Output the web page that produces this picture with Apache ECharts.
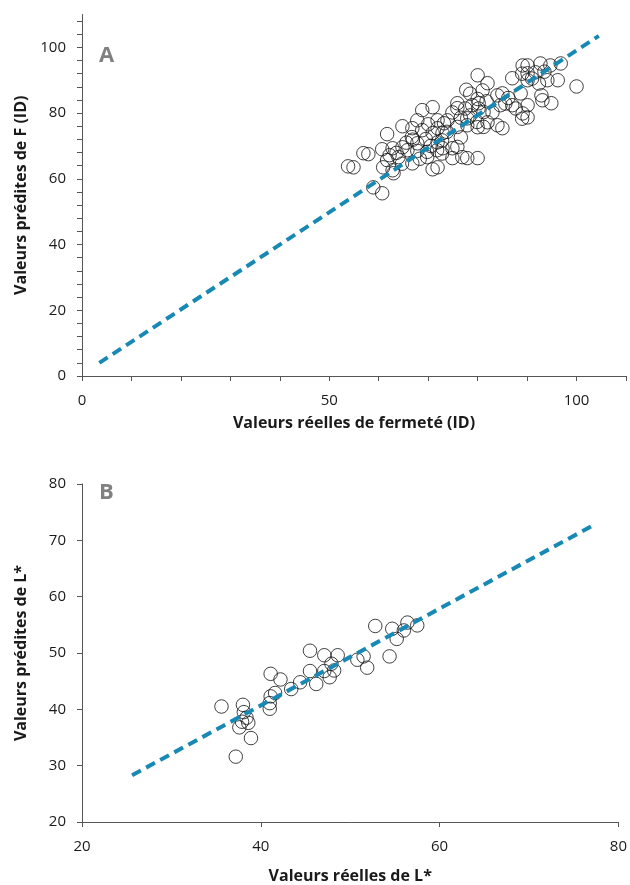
<!DOCTYPE html>
<html>
<head>
<meta charset="utf-8">
<script src="https://cdn.jsdelivr.net/npm/echarts@6/dist/echarts.min.js"></script>
<style>
  html, body { margin: 0; padding: 0; background: #fff; }
  #chart { width: 630px; height: 885px; }
</style>
</head>
<body>
<div id="chart"></div>
<script>
// panel A : fermeté (réel, prédit)
var pointsA = [
  [53.8,63.8],[54.9,63.5],[56.9,67.8],[57.9,67.5],[58.9,57.4],[60.7,55.6],[61.7,73.6],[60.7,69.0],
  [60.9,63.5],[62.8,69.3],[61.7,65.7],[62.8,62.6],[63.0,61.7],[64.8,76.0],[64.0,66.6],[64.8,69.6],
  [65.8,68.7],[66.8,75.4],[67.8,77.8],[66.8,64.7],[67.8,70.8],[68.8,74.8],[68.8,80.9],[70.9,81.8],
  [69.8,66.6],[70.9,73.9],[70.9,62.9],[71.9,63.5],[71.9,77.8],[71.9,75.4],[71.9,71.1],[72.9,69.3],
  [73.9,77.8],[72.9,73.9],[74.9,69.3],[74.9,80.2],[75.9,83.0],[74.9,66.3],[75.9,81.5],[76.9,66.6],
  [77.9,66.3],[80.0,66.3],[77.9,78.4],[77.9,76.3],[80.0,75.7],[78.5,79.3],[80.0,91.5],[80.0,84.3],
  [80.2,83.0],[81.0,86.9],[82.0,89.1],[82.0,77.2],[83.0,80.2],[84.0,85.4],[85.0,86.0],[85.0,75.4],
  [84.0,76.3],[84.6,82.4],[87.0,90.6],[87.0,82.4],[89.1,94.5],[90.1,94.5],[90.1,92.1],[90.1,90.0],
  [88.7,86.0],[89.1,79.9],[90.1,78.7],[90.1,82.4],[92.7,95.1],[91.7,92.4],[94.7,94.5],[94.1,90.0],
  [96.2,90.0],[96.8,95.1],[92.9,85.4],[93.1,83.9],[94.9,83.0],[100.0,88.1],
  [66.9,71.9],[72.8,71.7],[73.8,74.3],[75.9,75.8],[75.9,69.7],[67.8,68.5],[69.8,68.2],[71.8,68.7],
  [77.7,87.1],[78.5,85.9],[80.2,81.4],[81.2,80.3],[85.6,82.9],[87.7,81.4],[89.0,78.3],[89.0,92.0],
  [91.0,90.5],[92.4,89.0],[79.9,77.3],[81.2,75.8],[77.5,81.4],[78.9,82.4],[64.7,64.6],[72.8,67.7],
  [66.7,72.7],[70.0,76.6],[73.2,76.9],[69.5,72.1],[63.6,67.9],[65.6,71.0],[68.3,66.1],[70.5,70.0],
  [76.6,78.6],[81.8,83.6],[86.2,84.6],[93.5,92.6],[76.6,72.6],[62.2,67.2]
];
var fitA = [[3.5, 4.0], [104.5, 103.5]];
var xTicksA = [0,10,20,30,40,50,60,70,80,90,100,110];
var xLabelsA = [0,50,100];
var yTicksA = [0,4,8,12,16,20,24,28,32,36,40,44,48,52,56,60,64,68,72,76,80,84,88,92,96,100,104,108];
var yLabelsA = [0,20,40,60,80,100];

// panel B : L* (réel, prédit)
var pointsB = [
  [35.6,40.5],[37.2,31.6],[37.6,36.8],[37.9,37.8],[38.0,40.8],[38.1,39.5],[38.4,38.5],[38.6,37.6],
  [38.9,34.9],[41.0,40.1],[41.0,41.1],[41.1,42.3],[41.1,46.3],[41.6,42.9],[42.2,45.3],[43.4,43.6],
  [44.4,44.8],[45.5,50.4],[45.5,46.8],[46.2,44.5],[47.1,49.6],[47.1,46.8],[47.7,45.7],[47.9,48.1],
  [48.2,46.9],[48.6,49.6],[50.8,48.8],[51.5,49.4],[51.9,47.4],[52.8,54.8],[54.4,49.4],[54.7,54.3],
  [55.2,52.5],[56.0,54.0],[56.4,55.4],[57.5,54.9]
];
var fitB = [[25.6, 28.3], [77.1, 72.6]];

var axisColor = '#555';
var textColor = '#1a1a1a';
var lineColor = '#1889b4';
var font = 'Open Sans';

function makeX(idx, min, max, interval, ticks, labels, name, gap) {
  return {
    gridIndex: idx, type: 'value', min: min, max: max, interval: interval,
    name: name, nameLocation: 'middle', nameGap: gap,
    nameTextStyle: { color: textColor, fontFamily: font, fontSize: 16, fontWeight: 'bold' },
    axisLine: { show: true, onZero: false, lineStyle: { color: axisColor, width: 1 } },
    axisTick: { show: true, length: 5, lineStyle: { color: axisColor }, customValues: ticks },
    axisLabel: { color: textColor, fontFamily: font, fontSize: 15, margin: 17, customValues: labels },
    splitLine: { show: false }
  };
}
function makeY(idx, min, max, interval, ticks, labels, name, gap) {
  return {
    gridIndex: idx, type: 'value', min: min, max: max, interval: interval,
    name: name, nameLocation: 'middle', nameGap: gap, nameRotate: 90,
    nameTextStyle: { color: textColor, fontFamily: font, fontSize: 16, fontWeight: 'bold' },
    axisLine: { show: true, onZero: false, lineStyle: { color: axisColor, width: 1 } },
    axisTick: { show: true, length: 5, lineStyle: { color: axisColor }, customValues: ticks },
    axisLabel: { color: textColor, fontFamily: font, fontSize: 15, margin: 16, customValues: labels },
    splitLine: { show: false }
  };
}

var circleStyle = { color: 'rgba(0,0,0,0)', borderColor: '#111', borderWidth: 1 };
var dashStyle = { color: lineColor, width: 4, type: [10, 6] };

var chart = echarts.init(document.getElementById('chart'));
chart.setOption({
  animation: false,
  grid: [
    { left: 82, top: 14.5, width: 544, height: 361.5 },
    { left: 82, top: 484, width: 544, height: 338 }
  ],
  xAxis: [
    makeX(0, 0, 110, 10, xTicksA, xLabelsA, 'Valeurs réelles de fermeté (ID)', 39),
    makeX(1, 20, 80, 20, null, null, 'Valeurs réelles de L*', 46)
  ],
  yAxis: [
    makeY(0, 0, 110, 4, yTicksA, yLabelsA, 'Valeurs prédites de F (ID)', 53),
    makeY(1, 20, 80, 10, null, null, 'Valeurs prédites de L*', 53)
  ],
  graphic: [
    { type: 'text', left: 99, top: 45, style: { text: 'A', fill: '#808080', font: 'bold 22px "Open Sans"' } },
    { type: 'text', left: 99, top: 482, style: { text: 'B', fill: '#808080', font: 'bold 22px "Open Sans"' } }
  ],
  series: [
    { type: 'scatter', xAxisIndex: 0, yAxisIndex: 0, data: pointsA, symbol: 'circle', symbolSize: 13.5, itemStyle: circleStyle, z: 2 },
    { type: 'line', xAxisIndex: 0, yAxisIndex: 0, data: fitA, symbol: 'none', lineStyle: dashStyle, z: 3 },
    { type: 'scatter', xAxisIndex: 1, yAxisIndex: 1, data: pointsB, symbol: 'circle', symbolSize: 13.5, itemStyle: circleStyle, z: 2 },
    { type: 'line', xAxisIndex: 1, yAxisIndex: 1, data: fitB, symbol: 'none', lineStyle: dashStyle, z: 3 }
  ]
});
</script>
</body>
</html>
